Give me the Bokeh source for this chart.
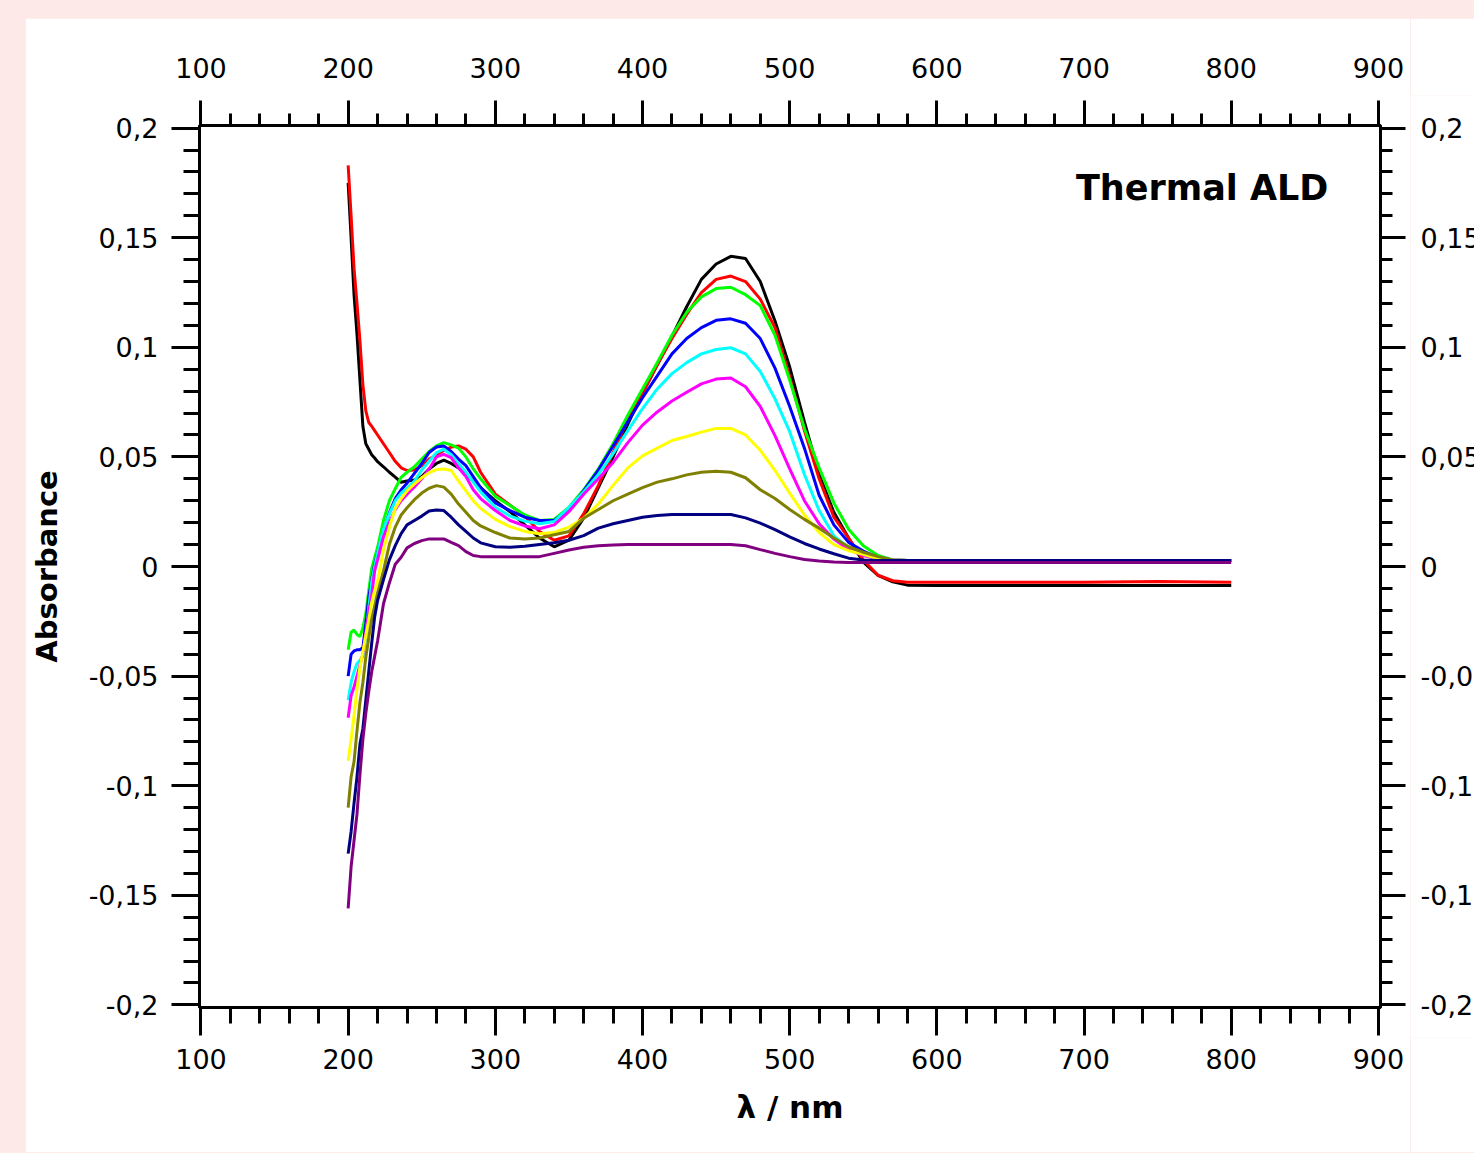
from bokeh.plotting import figure
from bokeh.layouts import row
from bokeh.models import LinearAxis, FixedTicker, Range1d, CustomJSTickFormatter, Label
from bokeh.core.properties import value
from bokeh.embed import file_html
from bokeh.resources import INLINE

# ---------------- data ----------------
wavelength = [200, 202, 204, 206, 208, 210, 212, 214, 216, 218, 220,
              224, 228, 232, 236, 240,
              245, 250, 255, 260, 265, 270, 275, 280, 285, 290,
              300, 310, 320, 330, 340, 350, 360, 370, 380, 390, 400, 410, 420, 430,
              440, 450, 460, 470, 480, 490, 500, 510, 520, 530, 540, 550, 560, 570, 580,
              600, 650, 700, 750, 800]

black = [0.175, 0.150, 0.124, 0.106, 0.085, 0.064, 0.056, 0.0535, 0.051, 0.0495, 0.0478,
         0.0455, 0.043, 0.0408, 0.0384, 0.039,
         0.0395, 0.041, 0.0445, 0.047, 0.0485, 0.047, 0.045, 0.042, 0.039, 0.036,
         0.030, 0.025, 0.019, 0.013, 0.009, 0.012, 0.022, 0.036, 0.050, 0.065, 0.079, 0.092, 0.105, 0.1185,
         0.131, 0.138, 0.1415, 0.1405, 0.130, 0.112, 0.091, 0.066, 0.042, 0.0247, 0.013, 0.002, -0.004, -0.007, -0.0085,
         -0.0087, -0.0087, -0.0087, -0.0087, -0.0087]

red = [0.183, 0.160, 0.136, 0.120, 0.103, 0.083, 0.071, 0.0657, 0.064, 0.062, 0.060,
       0.056, 0.052, 0.048, 0.045, 0.0438,
       0.044, 0.046, 0.049, 0.051, 0.053, 0.0545, 0.055, 0.0535, 0.050, 0.043,
       0.033, 0.028, 0.023, 0.016, 0.012, 0.014, 0.024, 0.037, 0.052, 0.067, 0.079, 0.092, 0.104, 0.115,
       0.125, 0.131, 0.1325, 0.130, 0.122, 0.109, 0.0865, 0.062, 0.040, 0.0225, 0.013, 0.003, -0.004, -0.0065, -0.0072,
       -0.0072, -0.0072, -0.0072, -0.0068, -0.0072]

green = [-0.038, -0.030, -0.029, -0.031, -0.032, -0.028, -0.0216, -0.011, -0.001, 0.004, 0.0088,
         0.021, 0.030, 0.0355, 0.0407, 0.043,
         0.0455, 0.049, 0.0525, 0.055, 0.0565, 0.0555, 0.054, 0.050, 0.0445, 0.040,
         0.032, 0.0278, 0.0235, 0.021, 0.0215, 0.027, 0.035, 0.0445, 0.056, 0.069, 0.081, 0.093, 0.1055, 0.116,
         0.123, 0.1268, 0.1274, 0.124, 0.119, 0.1055, 0.085, 0.063, 0.045, 0.029, 0.017, 0.0095, 0.005, 0.003, 0.0027,
         0.0027, 0.0027, 0.0027, 0.0027, 0.0027]

blue = [-0.050, -0.040, -0.0385, -0.038, -0.038, -0.037, -0.026, -0.014, -0.006, 0.001, 0.006,
        0.016, 0.0245, 0.031, 0.035, 0.038,
        0.0425, 0.047, 0.052, 0.0545, 0.055, 0.0525, 0.049, 0.046, 0.041, 0.036,
        0.029, 0.0255, 0.0225, 0.021, 0.021, 0.026, 0.0345, 0.044, 0.055, 0.066, 0.077, 0.087, 0.097, 0.104,
        0.109, 0.1123, 0.113, 0.111, 0.104, 0.0905, 0.073, 0.054, 0.0325, 0.019, 0.011, 0.007, 0.004, 0.003, 0.0027,
        0.0027, 0.0027, 0.0027, 0.0027, 0.0027]

cyan = [-0.061, -0.053, -0.048, -0.0443, -0.0427, -0.041, -0.0323, -0.019, -0.007, 0.000, 0.006,
        0.017, 0.024, 0.030, 0.0335, 0.0357,
        0.039, 0.044, 0.048, 0.052, 0.0535, 0.051, 0.047, 0.043, 0.0385, 0.034,
        0.027, 0.023, 0.0207, 0.0195, 0.0205, 0.027, 0.034, 0.042, 0.0515, 0.062, 0.072, 0.081, 0.088, 0.093,
        0.097, 0.099, 0.0998, 0.097, 0.089, 0.0765, 0.0615, 0.042, 0.0255, 0.014, 0.0085, 0.005, 0.004, 0.003, 0.0027,
        0.0027, 0.0027, 0.0027, 0.0027, 0.0027]

magenta = [-0.069, -0.059, -0.055, -0.050, -0.045, -0.040, -0.030, -0.021, -0.013, -0.002, 0.003,
           0.0135, 0.020, 0.026, 0.030, 0.033,
           0.0363, 0.040, 0.0445, 0.050, 0.0512, 0.0497, 0.045, 0.041, 0.035, 0.031,
           0.0255, 0.021, 0.0185, 0.0172, 0.019, 0.025, 0.033, 0.040, 0.0475, 0.0565, 0.0645, 0.0705, 0.0755, 0.0795,
           0.0833, 0.0855, 0.086, 0.082, 0.073, 0.0597, 0.0445, 0.030, 0.0195, 0.0125, 0.0078, 0.005, 0.0035, 0.003, 0.0027,
           0.0027, 0.0027, 0.0027, 0.0027, 0.0027]

yellow = [-0.0886, -0.079, -0.068, -0.056, -0.046, -0.039, -0.0315, -0.0245, -0.0165, -0.011, -0.007,
          0.0075, 0.018, 0.0265, 0.031, 0.0345,
          0.0377, 0.0405, 0.0428, 0.0442, 0.0445, 0.0438, 0.039, 0.0345, 0.030, 0.0265,
          0.0215, 0.0182, 0.016, 0.0149, 0.0155, 0.018, 0.022, 0.0285, 0.037, 0.045, 0.0505, 0.054, 0.0575, 0.0593,
          0.0613, 0.063, 0.063, 0.060, 0.053, 0.0438, 0.0335, 0.0235, 0.0155, 0.010, 0.0072, 0.0056, 0.0035, 0.003, 0.0027,
          0.0027, 0.0027, 0.0027, 0.0027, 0.0027]

olive = [-0.110, -0.096, -0.089, -0.075, -0.062, -0.053, -0.0414, -0.0325, -0.024, -0.018, -0.012,
         -0.002, 0.010, 0.018, 0.0235, 0.0268,
         0.0305, 0.0335, 0.0357, 0.0369, 0.0362, 0.033, 0.0285, 0.0248, 0.021, 0.0185,
         0.0155, 0.013, 0.0126, 0.013, 0.0145, 0.016, 0.022, 0.026, 0.030, 0.033, 0.036, 0.0385, 0.040, 0.0418,
         0.043, 0.0435, 0.043, 0.0405, 0.035, 0.031, 0.026, 0.0215, 0.0175, 0.013, 0.009, 0.0065, 0.0045, 0.003, 0.0027,
         0.0027, 0.0027, 0.0027, 0.0027, 0.0027]

navy = [-0.131, -0.121, -0.108, -0.096, -0.081, -0.074, -0.061, -0.048, -0.035, -0.023, -0.0155,
        -0.006, 0.003, 0.0095, 0.015, 0.019,
        0.021, 0.023, 0.0253, 0.0258, 0.0255, 0.0225, 0.019, 0.016, 0.013, 0.0108,
        0.009, 0.0088, 0.0092, 0.010, 0.0108, 0.012, 0.0141, 0.0175, 0.0195, 0.021, 0.0225, 0.0233, 0.0237, 0.0237,
        0.0237, 0.0237, 0.0237, 0.0222, 0.0198, 0.0168, 0.0135, 0.0105, 0.008, 0.0058, 0.0038, 0.003, 0.0027, 0.0027, 0.0027,
        0.0027, 0.0027, 0.0027, 0.0027, 0.0027]

purple = [-0.156, -0.137, -0.125, -0.113, -0.095, -0.079, -0.067, -0.057, -0.048, -0.041, -0.034,
          -0.017, -0.0075, 0.001, 0.0042, 0.0085,
          0.0105, 0.0118, 0.0126, 0.0126, 0.0126, 0.011, 0.0095, 0.0068, 0.005, 0.0045,
          0.0045, 0.0045, 0.0045, 0.0045, 0.006, 0.0075, 0.0088, 0.0095, 0.0098, 0.010, 0.010, 0.010, 0.010, 0.010,
          0.010, 0.010, 0.010, 0.0095, 0.0077, 0.006, 0.0045, 0.0032, 0.0025, 0.002, 0.0018, 0.0018, 0.0018, 0.0018, 0.0018,
          0.0018, 0.0018, 0.0018, 0.0018, 0.0018]

series_names = ["black", "red", "green", "blue", "cyan", "magenta", "yellow", "olive", "navy", "purple"]
series_values = [black, red, green, blue, cyan, magenta, yellow, olive, navy, purple]
series_colors = ["#000000", "#ff0000", "#00ff00", "#0000ff", "#00ffff",
                 "#ff00ff", "#ffff00", "#808000", "#000080", "#800080"]

x_major = [100, 200, 300, 400, 500, 600, 700, 800, 900]
x_minor = [100 + 20 * i for i in range(41)]
y_major = [-0.2, -0.15, -0.1, -0.05, 0.0, 0.05, 0.1, 0.15, 0.2]
y_minor = [round(-0.2 + 0.01 * i, 2) for i in range(41)]
y_tick_labels = ["-0,2", "-0,15", "-0,1", "-0,05", "0", "0,05", "0,1", "0,15", "0,2"]

title_text = "Thermal ALD"
x_label = "λ / nm"
y_label = "Absorbance"

TICK_FONT = "DejaVu Sans"
TICK_SIZE = "27px"
FIG_H = 1134
BORDER_TOP = 107
BORDER_BOTTOM = 145
Y_LO, Y_HI = -0.2012, 0.2012

# ---------------- main figure ----------------
main_y = Range1d(Y_LO, Y_HI)
p = figure(width=1385, height=FIG_H, output_backend="svg", toolbar_location=None,
           x_range=Range1d(99, 901.4), y_range=main_y,
           min_border_left=174, min_border_right=30, min_border_top=BORDER_TOP, min_border_bottom=BORDER_BOTTOM,
           margin=(18, 0, 0, 25),
           background_fill_color="white", border_fill_color="white",
           outline_line_color="black", outline_line_width=3)
p.xgrid.visible = False
p.ygrid.visible = False

ylab_fmt = CustomJSTickFormatter(args=dict(vals=y_major, labs=y_tick_labels), code="""
for (let i = 0; i < vals.length; i++) { if (Math.abs(tick - vals[i]) < 1e-9) return labs[i]; }
return "";
""")
empty_fmt = CustomJSTickFormatter(code="return '';")


def style_axis(ax, major_out, minor_out, standoff):
    ax.axis_line_width = 3
    ax.axis_line_color = "black"
    ax.major_tick_line_width = 3
    ax.minor_tick_line_width = 3
    ax.major_tick_line_color = "black"
    ax.minor_tick_line_color = "black"
    ax.major_tick_in = 0
    ax.minor_tick_in = 0
    ax.major_tick_out = major_out
    ax.minor_tick_out = minor_out
    ax.major_label_standoff = standoff
    ax.major_label_text_font = TICK_FONT
    ax.major_label_text_font_size = TICK_SIZE
    ax.major_label_text_color = "black"


# bottom
xb = p.xaxis[0]
xb.ticker = FixedTicker(ticks=x_major, minor_ticks=x_minor)
style_axis(xb, 28, 16, 13)
xb.axis_label = x_label
xb.axis_label_text_font = TICK_FONT
xb.axis_label_text_font_style = "bold"
xb.axis_label_text_font_size = "31px"
xb.axis_label_text_color = "black"
xb.axis_label_standoff = 17

# top
xt = LinearAxis(ticker=FixedTicker(ticks=x_major, minor_ticks=x_minor))
style_axis(xt, 25, 12, 23)
p.add_layout(xt, "above")

# left
yl = p.yaxis[0]
yl.ticker = FixedTicker(ticks=y_major, minor_ticks=y_minor)
yl.formatter = ylab_fmt
style_axis(yl, 28, 16, 13)
yl.axis_label = y_label
yl.axis_label_text_font = TICK_FONT
yl.axis_label_text_font_style = "bold"
yl.axis_label_text_font_size = "29px"
yl.axis_label_text_color = "black"
yl.axis_label_standoff = 22

# right (ticks only here; its labels live in the side strip so the page edge cuts them)
yr = LinearAxis(ticker=FixedTicker(ticks=y_major, minor_ticks=y_minor), formatter=empty_fmt)
style_axis(yr, 25, 12, 0)
p.add_layout(yr, "right")

# curves
for name, vals, col in zip(series_names, series_values, series_colors):
    p.line(wavelength, vals, line_color=col, line_width=3)

# in-plot title
p.add_layout(Label(x=866, y=0.1725, text=title_text, text_align="right", text_baseline="alphabetic",
                   text_font=TICK_FONT, text_font_style="bold", text_font_size="35px", text_color="black"))

# ---------------- side strip with the right-hand tick labels ----------------
# same vertical scale as the main frame, but a taller frame so the end labels are not cut
EXTRA_PX = 30
px_per_unit = (FIG_H - BORDER_TOP - BORDER_BOTTOM) / (Y_HI - Y_LO)
pad = EXTRA_PX / px_per_unit
side_kw = dict(width=64, height=FIG_H, output_backend="svg", toolbar_location=None,
               x_range=Range1d(0, 64), x_axis_type=None, y_axis_type=None,
               min_border=0, min_border_left=0, min_border_right=0,
               margin=(18, 0, 0, 0),
               background_fill_color="white", border_fill_color="white", outline_line_color=None)
try:
    side = figure(y_range=Range1d(Y_LO - pad, Y_HI + pad),
                  min_border_top=BORDER_TOP - EXTRA_PX, min_border_bottom=BORDER_BOTTOM - EXTRA_PX,
                  frame_align=False, **side_kw)
except Exception:
    side = figure(y_range=main_y, min_border_top=BORDER_TOP, min_border_bottom=BORDER_BOTTOM, **side_kw)
side.xgrid.visible = False
side.ygrid.visible = False
side.text(x=10, y=y_major, text=y_tick_labels, text_align="left", text_baseline="middle",
          text_font=value(TICK_FONT), text_font_size=value(TICK_SIZE), text_color="black")

layout = row(p, side)

html = file_html(layout, INLINE, title="Thermal ALD")
html = html.replace("</head>", "<style>html, body { background: #fde9e7; }</style></head>", 1)
open("out.html", "w").write(html)
